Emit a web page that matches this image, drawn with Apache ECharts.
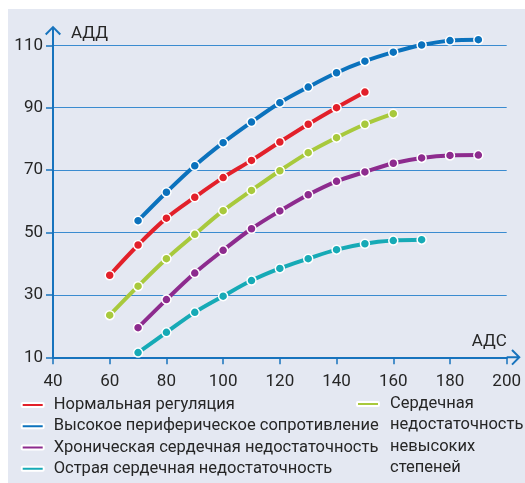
<!DOCTYPE html>
<html>
<head>
<meta charset="utf-8">
<script src="https://cdn.jsdelivr.net/npm/echarts@6/dist/echarts.min.js"></script>
<style>
  html, body { margin: 0; padding: 0; background: #ffffff; }
  #chart { position: absolute; left: 8px; top: 9px; width: 517px; height: 474px; }
</style>
</head>
<body>
<div id="chart"></div>
<script>
// ---- Data ----
const xTicks = [40, 60, 80, 100, 120, 140, 160, 180, 200];
const yTicks = [10, 30, 50, 70, 90, 110];

const nameRed = 'Нормальная регуляция';
const adsRed = [60, 70, 80, 90, 100, 110, 120, 130, 140, 150];
const addRed = [36.3, 46, 54.6, 61.3, 67.6, 73.1, 79, 84.7, 90, 95];

const nameBlue = 'Высокое периферическое сопротивление';
const adsBlue = [70, 80, 90, 100, 110, 120, 130, 140, 150, 160, 170, 180, 190];
const addBlue = [53.8, 62.9, 71.4, 78.8, 85.4, 91.6, 96.6, 101.2, 104.9, 107.8, 110.1, 111.5, 111.8];

const namePurple = 'Хроническая сердечная недостаточность';
const adsPurple = [70, 80, 90, 100, 110, 120, 130, 140, 150, 160, 170, 180, 190];
const addPurple = [19.5, 28.5, 37, 44.3, 51.2, 56.9, 62.1, 66.4, 69.4, 72.2, 73.9, 74.7, 74.8];

const nameTeal = 'Острая сердечная недостаточность';
const adsTeal = [70, 80, 90, 100, 110, 120, 130, 140, 150, 160, 170];
const addTeal = [11.5, 18, 24.4, 29.6, 34.6, 38.5, 41.6, 44.5, 46.4, 47.4, 47.7];

const nameGreen = 'Сердечная недостаточность невысоких степеней';
const adsGreen = [60, 70, 80, 90, 100, 110, 120, 130, 140, 150, 160];
const addGreen = [23.5, 32.8, 41.6, 49.4, 57, 63.5, 69.8, 75.6, 80.4, 84.7, 88.1];

// ---- Styling ----
const AXIS = '#1773bd';
const GRID = '#3a8bd0';
const TEXT = '#262626';
const FONT = 'Roboto';

const pairs = (xs, ys) => xs.map((x, i) => [x, ys[i]]);

function lineSeries(name, xs, ys, color) {
  return {
    name: name,
    type: 'line',
    data: pairs(xs, ys),
    smooth: 0.35,
    clip: false,
    symbol: 'circle',
    symbolSize: 9,
    lineStyle: { color: color, width: 4 },
    itemStyle: { color: color, borderColor: '#ffffff', borderWidth: 1.5 },
    emphasis: { disabled: true },
    z: 3
  };
}

// arrow (stem + open chevron) drawn as the axis end symbol
const arrowY = 'path://M8 0 L16 8 L14.59 9.41 L9 3.82 L9 20 L7 20 L7 3.82 L1.41 9.41 L0 8 Z';
const arrowX = 'path://M8 0 L16 8 L14.59 9.41 L9 3.82 L9 14 L7 14 L7 3.82 L1.41 9.41 L0 8 Z';

const chart = echarts.init(document.getElementById('chart'), null, { renderer: 'canvas' });

chart.setOption({
  backgroundColor: '#e4e8f2',
  animation: false,
  textStyle: { fontFamily: FONT },
  grid: { left: 45, top: 36.3, right: 18.3, bottom: 125.7, containLabel: false },
  xAxis: {
    type: 'value',
    min: xTicks[0],
    max: xTicks[xTicks.length - 1],
    interval: 20,
    name: 'АДС',
    nameLocation: 'end',
    nameGap: 0,
    nameTextStyle: { fontFamily: FONT, fontSize: 17, color: TEXT, align: 'right', verticalAlign: 'bottom', padding: [0, 0, 7, 0] },
    axisLine: { show: true, lineStyle: { color: AXIS, width: 2 }, symbol: ['none', arrowX], symbolSize: [16, 14], symbolOffset: [0, 7] },
    axisTick: { show: true, inside: false, length: 7, lineStyle: { color: AXIS, width: 1.5 } },
    axisLabel: { fontFamily: FONT, fontSize: 17, color: TEXT, margin: 16 },
    splitLine: { show: false }
  },
  yAxis: {
    type: 'value',
    min: yTicks[0],
    max: yTicks[yTicks.length - 1],
    interval: 20,
    name: 'АДД',
    nameLocation: 'end',
    nameGap: 12,
    nameTextStyle: { fontFamily: FONT, fontSize: 17, color: TEXT, align: 'left', verticalAlign: 'middle', padding: [0, 0, 0, 18] },
    axisLine: { show: true, lineStyle: { color: AXIS, width: 2 }, symbol: ['none', arrowY], symbolSize: [16, 20], symbolOffset: [0, 9.5] },
    axisTick: { show: true, inside: false, length: 7, lineStyle: { color: AXIS, width: 1.5 } },
    axisLabel: { fontFamily: FONT, fontSize: 17, color: TEXT, margin: 10 },
    splitLine: { show: true, lineStyle: { color: GRID, width: 1 } }
  },
  legend: [
    {
      data: [nameRed, nameBlue, namePurple, nameTeal],
      orient: 'vertical',
      left: 12.7,
      top: 385.3,
      padding: 0,
      itemGap: 0,
      itemWidth: 22,
      itemHeight: 4,
      icon: 'roundRect',
      selectedMode: false,
      textStyle: { fontFamily: FONT, fontSize: 16.5, color: TEXT, lineHeight: 21.3, padding: [0, 0, 0, 5] }
    },
    {
      data: [nameGreen],
      orient: 'vertical',
      left: 348,
      top: 320.45,
      padding: 0,
      itemWidth: 22,
      itemHeight: 4,
      icon: 'roundRect',
      selectedMode: false,
      formatter: function (n) { return '\n\n\n' + n.split(' ').join('\n'); },
      textStyle: { fontFamily: FONT, fontSize: 16.5, color: TEXT, lineHeight: 21.3, padding: [0, 0, 0, 6] }
    }
  ],
  series: [
    lineSeries(nameBlue, adsBlue, addBlue, '#0b72bd'),
    lineSeries(nameRed, adsRed, addRed, '#e2202a'),
    lineSeries(nameGreen, adsGreen, addGreen, '#a8c93c'),
    lineSeries(namePurple, adsPurple, addPurple, '#8d2b8e'),
    lineSeries(nameTeal, adsTeal, addTeal, '#16aab6')
  ]
});
</script>
</body>
</html>
